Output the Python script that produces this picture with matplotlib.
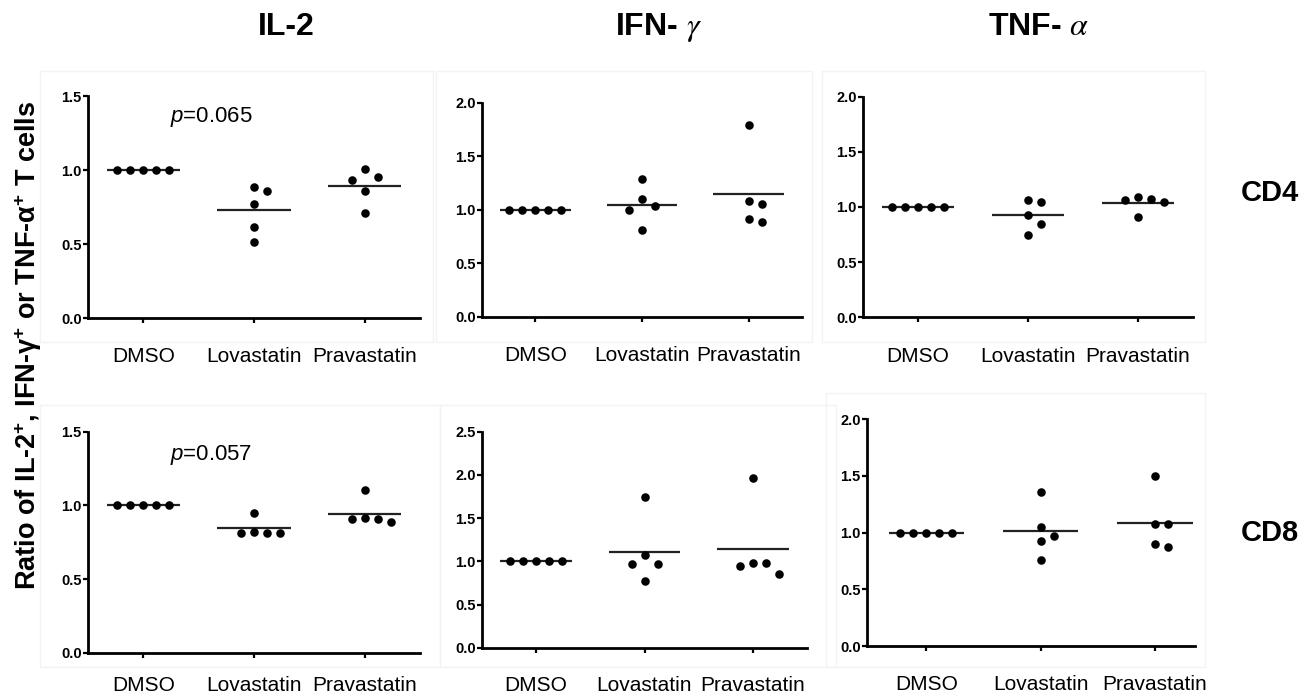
import numpy as np
import matplotlib
matplotlib.use('Agg')
import matplotlib.pyplot as plt
from matplotlib.patches import Rectangle

plt.rcParams['font.family'] = ['Liberation Sans', 'DejaVu Sans']
plt.rcParams['mathtext.fontset'] = 'custom'
plt.rcParams['mathtext.rm'] = 'Liberation Sans'
plt.rcParams['mathtext.it'] = 'Liberation Sans:italic'
plt.rcParams['mathtext.bf'] = 'Liberation Sans:bold'

# ---------------- data ----------------
groups = ['DMSO', 'Lovastatin', 'Pravastatin']
cytokine_titles = ['IL-2', r'IFN- $\gamma$', r'TNF- $\alpha$']
cell_types = ['CD4', 'CD8']

cd4_il2_dmso = [1.0, 1.0, 1.0, 1.0, 1.0]
cd4_il2_lova = [0.885, 0.858, 0.77, 0.615, 0.514]
cd4_il2_prava = [1.005, 0.95, 0.93, 0.86, 0.71]

cd4_ifng_dmso = [1.0, 1.0, 1.0, 1.0, 1.0]
cd4_ifng_lova = [1.287, 1.10, 1.04, 1.00, 0.81]
cd4_ifng_prava = [1.788, 1.087, 1.05, 0.913, 0.885]

cd4_tnfa_dmso = [1.0, 1.0, 1.0, 1.0, 1.0]
cd4_tnfa_lova = [1.06, 1.045, 0.93, 0.843, 0.749]
cd4_tnfa_prava = [1.093, 1.073, 1.063, 1.043, 0.912]

cd8_il2_dmso = [1.0, 1.0, 1.0, 1.0, 1.0]
cd8_il2_lova = [0.95, 0.82, 0.815, 0.815, 0.815]
cd8_il2_prava = [1.105, 0.917, 0.908, 0.905, 0.887]

cd8_ifng_dmso = [1.0, 1.0, 1.0, 1.0, 1.0]
cd8_ifng_lova = [1.741, 1.075, 0.972, 0.972, 0.776]
cd8_ifng_prava = [1.968, 0.977, 0.977, 0.95, 0.857]

cd8_tnfa_dmso = [1.0, 1.0, 1.0, 1.0, 1.0]
cd8_tnfa_lova = [1.36, 1.048, 0.972, 0.93, 0.756]
cd8_tnfa_prava = [1.5, 1.08, 1.074, 0.903, 0.877]

y_max = [[1.5, 2.0, 2.0], [1.5, 2.5, 2.0]]
p_labels = ['0.065', '0.057']
y_label = r'Ratio of IL-2$^{\mathbf{+}}$, IFN-γ$^{\mathbf{+}}$ or TNF-α$^{\mathbf{+}}$ T cells'

panel_data = [
    [[cd4_il2_dmso, cd4_il2_lova, cd4_il2_prava],
     [cd4_ifng_dmso, cd4_ifng_lova, cd4_ifng_prava],
     [cd4_tnfa_dmso, cd4_tnfa_lova, cd4_tnfa_prava]],
    [[cd8_il2_dmso, cd8_il2_lova, cd8_il2_prava],
     [cd8_ifng_dmso, cd8_ifng_lova, cd8_ifng_prava],
     [cd8_tnfa_dmso, cd8_tnfa_lova, cd8_tnfa_prava]],
]

# ---------------- layout (pixels) ----------------
W, H = 1311, 696
fig = plt.figure(figsize=(W / 100, H / 100), dpi=100)

# (left, right, top, bottom) in pixel coordinates
boxes_px = [
    [(88, 420, 96, 318), (482, 802, 102.7, 317), (863, 1193, 96.7, 317.3)],
    [(88, 420, 431.7, 652.7), (482, 807, 431.7, 647.7), (867, 1195, 419.3, 646)],
]
xlims = [[(-0.5, 2.5), (-0.5, 2.5), (-0.5, 2.5)],
         [(-0.5, 2.5), (-0.5, 2.5), (-0.52, 2.35)]]
xpad = [[17, 17, 18], [13, 16.5, 17.5]]

# faint panel frames
frames_px = [(40, 433, 71, 342), (436, 812, 71, 342), (822, 1205, 71, 342),
             (40, 440, 405, 667), (440, 836, 405, 667), (826, 1205, 393, 667)]
for (l, r, t, b) in frames_px:
    fig.patches.append(Rectangle((l / W, 1 - b / H), (r - l) / W, (b - t) / H,
                                 transform=fig.transFigure, fill=False,
                                 edgecolor='#f3f3f3', linewidth=1.0, zorder=0))


def swarm_columns(vals, ppu_y, thresh_px=12.0):
    vals = np.asarray(vals, dtype=float)
    order = np.argsort(-vals, kind='stable')
    placed = []
    cols = np.zeros(len(vals))
    for i in order:
        y = vals[i]
        chosen = 0
        for c in [0, 1, -1, 2, -2, 3, -3]:
            if all(abs(y - py) * ppu_y >= thresh_px for pc, py in placed if pc == c):
                chosen = c
                break
        placed.append((chosen, y))
        cols[i] = chosen
    return cols


col_px = 13.0
for r in range(2):
    for c in range(3):
        l, rr, t, b = boxes_px[r][c]
        ax = fig.add_axes([l / W, 1 - b / H, (rr - l) / W, (b - t) / H])
        ax.set_facecolor('none')
        ymax = y_max[r][c]
        x0, x1 = xlims[r][c]
        ax.set_xlim(x0, x1)
        ax.set_ylim(0, ymax)
        ppu_y = (b - t) / ymax
        ppu_x = (rr - l) / (x1 - x0)
        for gi, vals in enumerate(panel_data[r][c]):
            cols = swarm_columns(vals, ppu_y)
            xs = gi + cols * col_px / ppu_x
            ax.scatter(xs, vals, s=38, color='black', zorder=3, linewidths=0)
            m = float(np.mean(vals))
            ax.hlines(m, gi - 0.33, gi + 0.33, color='#222222', linewidth=1.6, zorder=2)
        for s in ['top', 'right']:
            ax.spines[s].set_visible(False)
        for s in ['left', 'bottom']:
            ax.spines[s].set_linewidth(2.0)
        yt = np.arange(0, ymax + 1e-9, 0.5)
        ax.set_yticks(yt, [f'{v:.1f}' for v in yt], fontweight='bold', fontsize=10.5)
        ax.set_xticks(range(3), groups, fontsize=15)
        ax.tick_params(axis='y', length=3.6, width=1.6, pad=1.0)
        ax.tick_params(axis='x', length=3.6, width=1.6, pad=xpad[r][c])
        if c == 0:
            ax.text(0.615, [1.358, 1.342][r], r'$p$=' + p_labels[r], fontsize=16,
                    ha='center', va='center')

# column titles
title_x = [286, 659, 1039]
for c in range(3):
    fig.text(title_x[c] / W, 1 - 27 / H, cytokine_titles[c], fontsize=23,
             fontweight='bold', ha='center', va='center', math_fontfamily='stix')

# row labels
row_y = [193, 533]
for r in range(2):
    fig.text(1270 / W, 1 - row_y[r] / H, cell_types[r], fontsize=21,
             fontweight='bold', ha='center', va='center')

# y label
fig.text(28 / W, 1 - 345 / H, y_label, rotation=90, fontsize=19.5,
         fontweight='bold', ha='center', va='center')

fig.savefig('out.png', dpi=100, facecolor='white')
